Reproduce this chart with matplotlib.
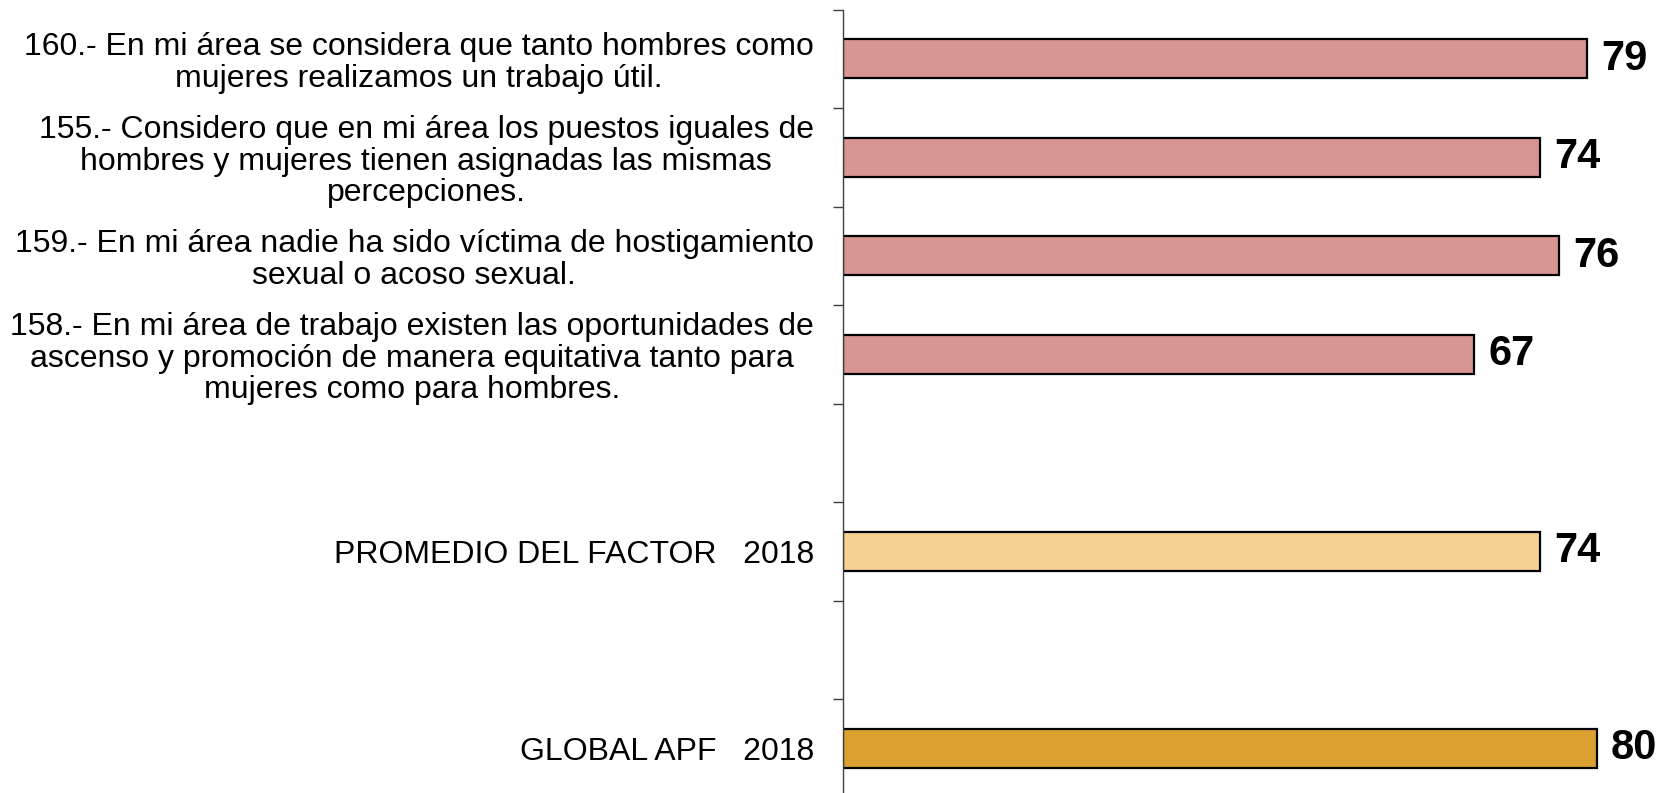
import numpy as np
import matplotlib
matplotlib.use('Agg')
import matplotlib.pyplot as plt

plt.rcParams['font.family'] = ['Liberation Sans', 'DejaVu Sans']

# question items (top to bottom)
questions = [
    '160.- En mi área se considera que tanto hombres como\nmujeres realizamos un trabajo útil.',
    '155.- Considero que en mi área los puestos iguales de\nhombres y mujeres tienen asignadas las mismas\npercepciones.',
    '159.- En mi área nadie ha sido víctima de hostigamiento\nsexual o acoso sexual.',
    '158.- En mi área de trabajo existen las oportunidades de\nascenso y promoción de manera equitativa tanto para\nmujeres como para hombres.',
]
question_values = [79, 74, 76, 67]

promedio_label = 'PROMEDIO DEL FACTOR   2018'
promedio_value = 74
global_label = 'GLOBAL APF   2018'
global_value = 80

q_color = '#D99594'
promedio_color = '#F5D193'
global_color = '#DBA232'

# slots: questions, blank, promedio, blank, global
labels = questions + ['', promedio_label, '', global_label]
values = question_values + [np.nan, promedio_value, np.nan, global_value]
colors = [q_color] * len(questions) + ['none', promedio_color, 'none', global_color]

fig = plt.figure(figsize=(16.69, 7.93), dpi=100)
ax = fig.add_axes([843 / 1669, -0.0057, 942 / 1669, 0.9937])

ind = np.arange(len(labels))
for i, (v, c) in enumerate(zip(values, colors)):
    if np.isnan(v):
        continue
    ax.barh(i, v, height=0.4, color=c, edgecolor='black', linewidth=1.6)
    ax.annotate(str(v), (v, i), xytext=(10, 0), textcoords='offset points',
                va='center', ha='left', fontsize=30, fontweight='bold')

ax.set_xlim(0, 100)
ax.set_ylim(-0.5, len(labels) - 0.5)
ax.invert_yaxis()

ax.set_yticks(ind)
ax.set_yticklabels(labels, fontsize=23, multialignment='center', linespacing=1.07)
ax.tick_params(axis='y', which='major', length=0, pad=21)
ax.set_yticks(np.arange(len(labels)) - 0.5, minor=True)
ax.tick_params(axis='y', which='minor', length=7, width=1, color='#404040')
ax.set_xticks([])

for s in ['top', 'right', 'bottom']:
    ax.spines[s].set_visible(False)
ax.spines['left'].set_color('#404040')
ax.spines['left'].set_linewidth(1)

plt.savefig('out.png', dpi=100)
